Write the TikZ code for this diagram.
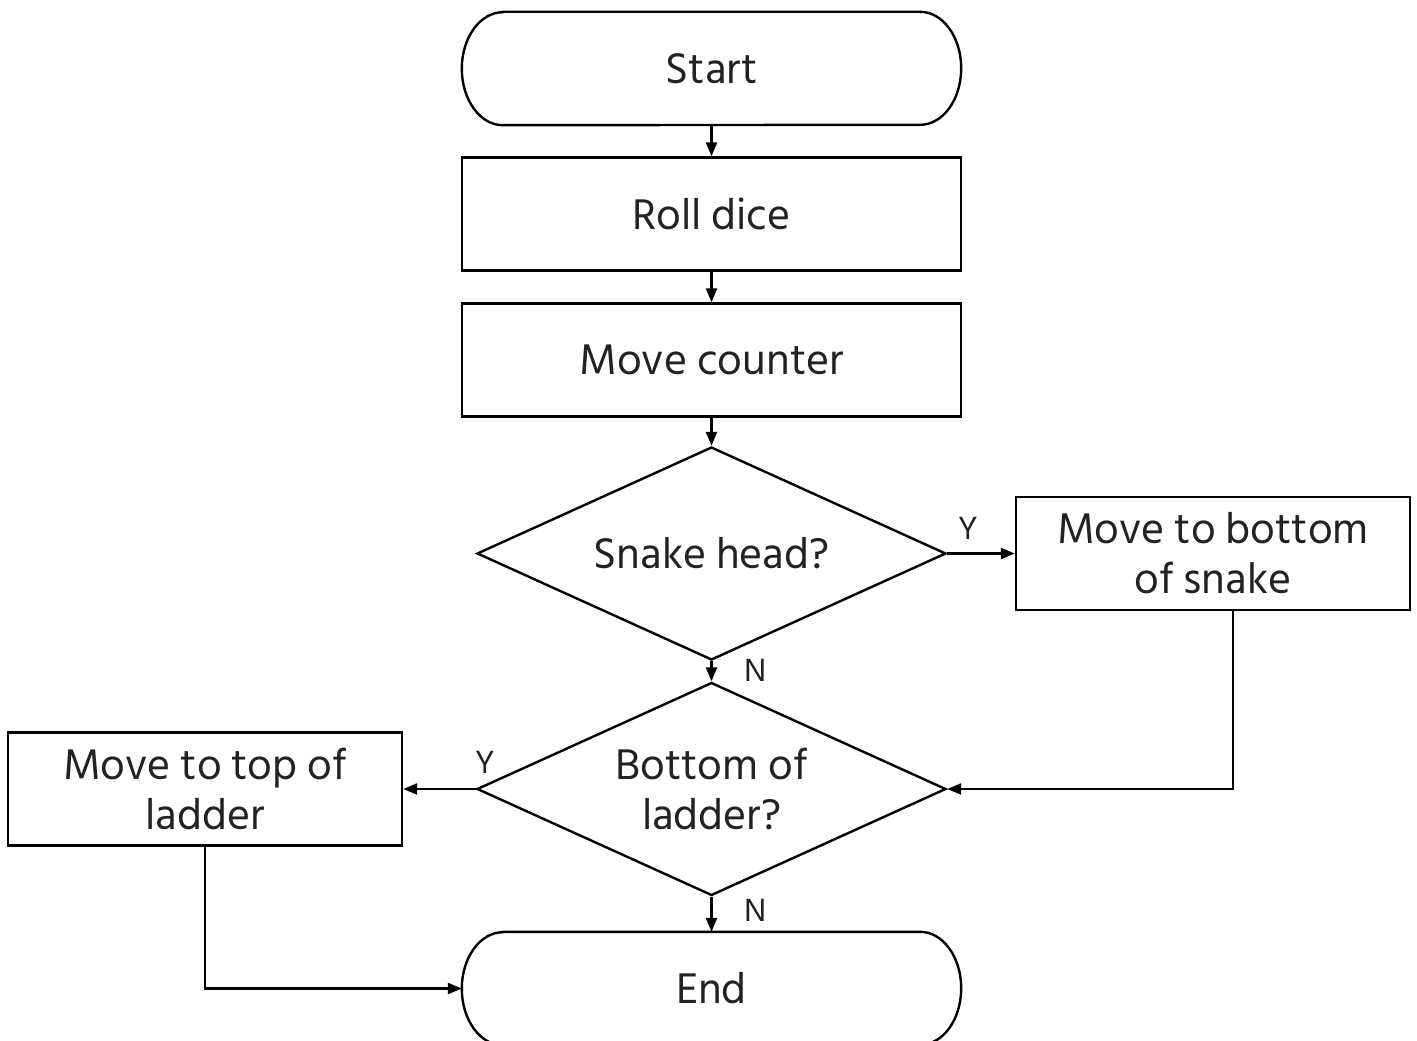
\documentclass[tikz,border=0pt]{standalone}
\usepackage{fontspec}
\setmainfont{Hind Siliguri}
\usetikzlibrary{arrows.meta,shapes.geometric}
\definecolor{ink}{HTML}{222222}
\begin{document}
\begin{tikzpicture}[x=1pt,y=-1pt,
  every node/.style={text=ink, font=\fontsize{44}{50}\selectfont, align=center},
  box/.style={draw=black, line width=2.4pt, rectangle, minimum width=#1, minimum height=113pt, inner sep=0pt},
  box/.default=499pt,
  ghost/.style={minimum width=499pt, minimum height=113pt, inner sep=0pt},
  decision/.style={draw=black, line width=2.4pt, diamond, minimum width=469pt, minimum height=213pt, inner sep=0pt, aspect=2.2},
  arr/.style={line width=2.4pt, -{Triangle[length=14pt,width=11pt]}},
  tag/.style={font=\fontsize{33}{36}\selectfont, inner sep=0pt}
]
\useasboundingbox (0,0) rectangle (1417,1041);

% terminals: elliptical ends
\newcommand{\terminal}[1]{%
  \draw[line width=2.4pt] ([xshift=41pt]#1.north west) -- ([xshift=-41pt]#1.north east)
    arc[start angle=90, end angle=-90, x radius=41pt, y radius=56.5pt]
    -- ([xshift=41pt]#1.south west)
    arc[start angle=270, end angle=90, x radius=41pt, y radius=56.5pt] -- cycle;}

\node[ghost] (start) at (711.5,68.5) {Start};
\terminal{start}
\node[box] (roll) at (711.5,214) {Roll dice};
\node[box] (move) at (711.5,360) {Move counter};
\node[decision] (snakeq) at (711.5,553.5) {Snake head?};
\node[box=394pt] (snake) at (1213,553.5) {Move to bottom\\of snake};
\node[decision] (ladderq) at (711.5,789) {Bottom of\\ladder?};
\node[box=394pt] (ladder) at (205,789) {Move to top of\\ladder};
\node[ghost] (end) at (711.5,988.5) {End};
\terminal{end}

\draw[arr] (start) -- (roll);
\draw[arr] (roll) -- (move);
\draw[arr] (move) -- (snakeq);
\draw[arr] (snakeq) -- (snake);
\draw[arr] (snakeq) -- (ladderq);
\draw[arr] (ladderq) -- (ladder);
\draw[arr] (ladderq) -- (end);
\draw[arr] ([xshift=20pt]snake.south) |- (ladderq.east);
\draw[arr] (ladder.south) |- (end.west);

\node[tag] (y1) at (968,528) {Y};
\node[tag] (n1) at (756,670) {N};
\node[tag] (y2) at (485,762) {Y};
\node[tag] (n2) at (756,910) {N};
\end{tikzpicture}
\end{document}
